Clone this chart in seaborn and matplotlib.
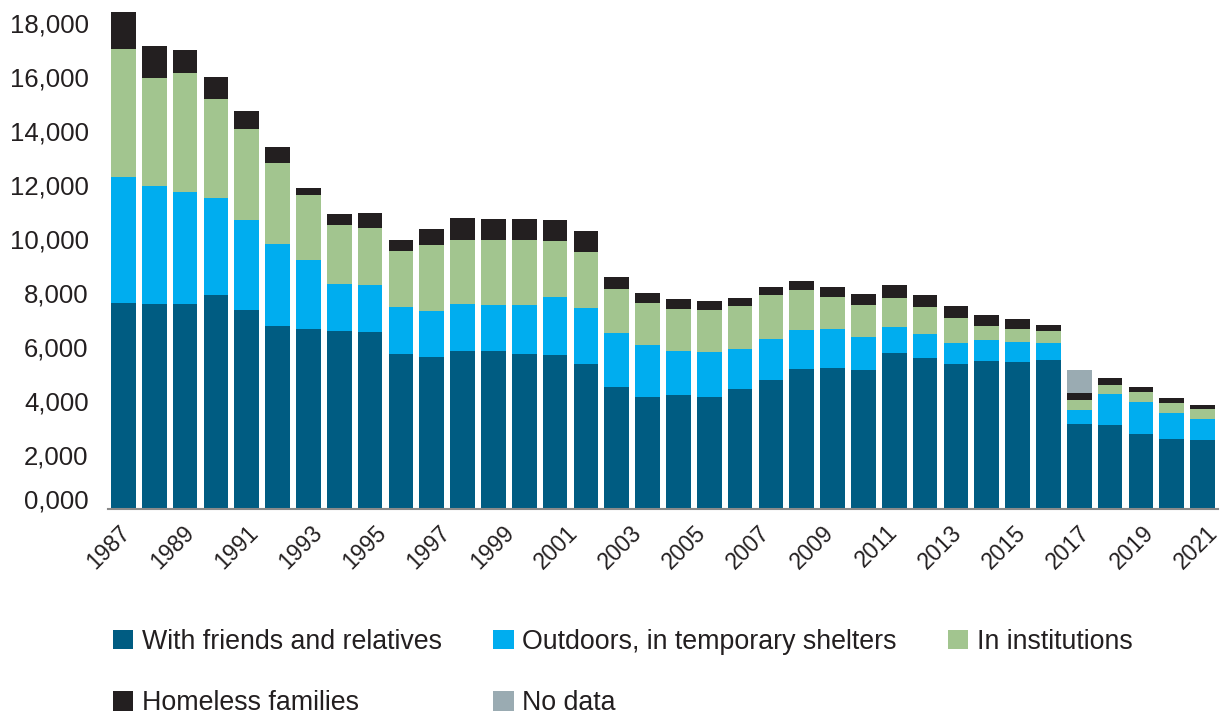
import numpy as np
import pandas as pd
import matplotlib
matplotlib.use("Agg")
import matplotlib.pyplot as plt
import matplotlib.transforms as mtransforms
from matplotlib.patches import Patch
import seaborn as sns

# ---- data -------------------------------------------------------------
years = [str(y) for y in range(1987, 2023)]
friends = [7620, 7560, 7590, 7910, 7340, 6770, 6660, 6590, 6550, 5730,
           5610, 5840, 5820, 5730, 5690, 5360, 4510, 4140, 4210, 4140,
           4430, 4770, 5160, 5210, 5140, 5760, 5590, 5360, 5470, 5410,
           5490, 3140, 3100, 2750, 2560, 2550]
outdoors = [4670, 4400, 4140, 3590, 3360, 3040, 2540, 1740, 1730, 1720,
            1720, 1750, 1730, 1810, 2150, 2080, 2000, 1930, 1630, 1650,
            1480, 1520, 1460, 1450, 1220, 970, 880, 780, 760, 770,
            650, 510, 1150, 1210, 970, 780]
institutions = [4740, 3970, 4390, 3680, 3340, 3000, 2410, 2170, 2100, 2100,
                2440, 2350, 2390, 2400, 2070, 2070, 1630, 1540, 1540, 1560,
                1580, 1630, 1480, 1180, 1180, 1080, 1000, 930, 520, 470,
                430, 380, 310, 350, 390, 340]
families = [1370, 1190, 860, 800, 680, 580, 250, 400, 560, 380,
            590, 820, 770, 780, 780, 770, 430, 360, 380, 320,
            310, 290, 340, 350, 420, 460, 440, 430, 420, 360,
            240, 260, 270, 200, 160, 150]
no_data = [0] * 31 + [840] + [0] * 4

series_names = ["With friends and relatives", "Outdoors, in temporary shelters",
                "In institutions", "Homeless families", "No data"]
tick_years = [str(y) for y in range(1987, 2022, 2)]
y_ticks = [0, 2000, 4000, 6000, 8000, 10000, 12000, 14000, 16000, 18000]
y_tick_labels = ["0,000", "2,000", "4,000", "6,000", "8,000", "10,000",
                 "12,000", "14,000", "16,000", "18,000"]

colors = ["#005C82", "#00ADEF", "#A2C58F", "#231F20", "#9AABB2"]

# ---- figure -----------------------------------------------------------
sns.set_theme(style="white")
plt.rcParams["font.family"] = ["Liberation Sans", "DejaVu Sans"]
text_color = "#231F20"

W, H = 1221, 717
fig = plt.figure(figsize=(W / 100, H / 100), dpi=100)
ax = fig.add_axes([108 / W, (H - 508.5) / H, 1110 / W, 499.5 / H])

df = pd.DataFrame({"year": years, "f": friends, "o": outdoors,
                   "i": institutions, "h": families, "n": no_data})
stack = [df["f"]]
for c in ["o", "i", "h", "n"]:
    stack.append(stack[-1] + df[c])

for k in range(4, -1, -1):
    d = pd.DataFrame({"year": years, "v": stack[k]})
    sns.barplot(data=d, x="year", y="v", order=years, color=colors[k],
                saturation=1, width=0.8, linewidth=0, ax=ax, errorbar=None)

ax.set_xlim(-0.5, 35.5)
ax.set_ylim(0, 18500)
ax.set_xlabel("")
ax.set_ylabel("")

for s in ["left", "top", "right"]:
    ax.spines[s].set_visible(False)
ax.spines["bottom"].set_color("#8A8A8A")
ax.spines["bottom"].set_linewidth(1.5)

ax.set_yticks(y_ticks)
ax.set_yticklabels(y_tick_labels, fontsize=18.5, color=text_color)
ax.tick_params(axis="y", length=0, pad=14)
lab0 = ax.get_yticklabels()[0]
lab0.set_transform(lab0.get_transform() +
                   mtransforms.ScaledTranslation(0, 10 / 100, fig.dpi_scale_trans))

ax.set_xticks(np.linspace(-0.16, 35.1, len(tick_years)))
ax.set_xticklabels(tick_years, fontsize=16.5, color=text_color, rotation=45,
                   ha="right", rotation_mode="anchor")
ax.tick_params(axis="x", length=0, pad=9)

handles = [Patch(facecolor=c, edgecolor="none", label=n)
           for c, n in zip(colors, series_names)]
order = [0, 3, 1, 4, 2]
leg = fig.legend([handles[i] for i in order], [series_names[i] for i in order],
                 ncol=3, loc="upper left",
                 bbox_to_anchor=(113 / W, (H - 629) / H),
                 frameon=False, fontsize=19.3, handlelength=0.75,
                 handleheight=0.75, handletextpad=0.33, columnspacing=1.92,
                 labelspacing=1.32, borderpad=0, borderaxespad=0)
for t in leg.get_texts():
    t.set_color(text_color)

fig.savefig("out.png", dpi=100)
